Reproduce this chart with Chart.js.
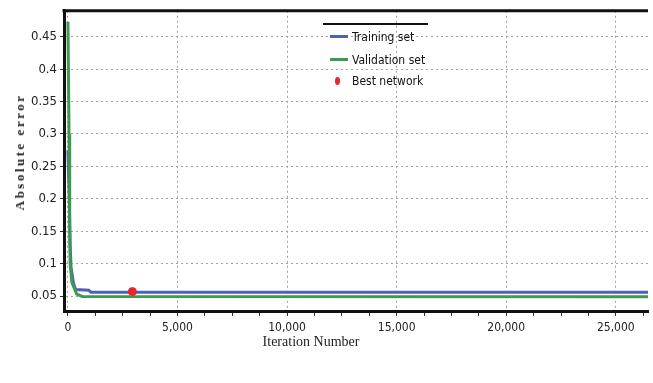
<!DOCTYPE html>
<html>
<head>
<meta charset="utf-8">
<script src="https://cdn.jsdelivr.net/npm/chart.js@4.4.1/dist/chart.umd.min.js"></script>
<style>
  html, body { margin: 0; padding: 0; background: #fff; }
  #wrap { position: relative; width: 653px; height: 383px; overflow: hidden; }
  #legend {
    position: absolute; left: 323px; top: 23px; width: 105px; height: 70px;
    border-top: 2px solid #111;
    font: 12px "Liberation Sans Narrow", "DejaVu Sans Condensed", sans-serif; color: #111;
  }
  .item { position: absolute; left: 0; height: 14px; line-height: 14px; white-space: nowrap; }
  .item .sw { position: absolute; left: 7px; top: 5px; width: 18px; height: 3px; }
  .item .dot { position: absolute; left: 12px; top: 3px; width: 5px; height: 8px; border-radius: 50%; background: #e8262a; }
  .item span { position: absolute; left: 29px; top: 0; }
  #ytitle {
    position: absolute; left: 20px; top: 152px; transform: translate(-50%, -50%) rotate(-90deg);
    font: bold 13px "Liberation Serif", serif; letter-spacing: 2.5px; color: #222; white-space: nowrap;
  }
  #xtitle {
    position: absolute; left: 311px; top: 342px; transform: translate(-50%, -50%);
    font: 14px "Liberation Serif", serif; color: #222; white-space: nowrap;
  }
</style>
</head>
<body>
<div id="wrap">
  <canvas id="chart" width="653" height="383"></canvas>
  <div id="ytitle">Absolute error</div>
  <div id="xtitle">Iteration Number</div>
  <div id="legend">
    <div class="item" style="top:5px"><div class="sw" style="background:#5060b4"></div><span>Training set</span></div>
    <div class="item" style="top:28px"><div class="sw" style="background:#3d9a50"></div><span>Validation set</span></div>
    <div class="item" style="top:49px"><div class="dot"></div><span>Best network</span></div>
  </div>
</div>
<script>
  // values
  const TRAIN_ITER = [0, 60, 100, 140, 250, 350, 950, 1050, 26470];
  const TRAIN_ERR = [0.275, 0.2, 0.13, 0.095, 0.07, 0.06, 0.059, 0.056, 0.056];
  const VAL_ITER = [0, 50, 80, 100, 180, 400, 650, 26470];
  const VAL_ERR = [0.473, 0.30, 0.15, 0.10, 0.071, 0.053, 0.0495, 0.049];
  const BEST_ITER = [2940];
  const BEST_ERR = [0.057];

  // axis ticks: labelled every 5,000, small marks every 1,250
  const X_TICKS = [0, 1250, 2500, 3750, 5000, 6250, 7500, 8750, 10000, 11250, 12500, 13750,
    15000, 16250, 17500, 18750, 20000, 21250, 22500, 23750, 25000, 26250];
  const Y_TICKS = [0.05, 0.1, 0.15, 0.2, 0.25, 0.3, 0.35, 0.4, 0.45];

  const TICK_FONT = '"Liberation Sans Narrow", "DejaVu Sans Condensed", sans-serif';
  const GRID = '#a0a0a0';

  const toPoints = (xs, ys) => xs.map((x, i) => ({ x, y: ys[i] }));

  // top border of the plot frame
  const frameTop = {
    id: 'frameTop',
    afterDraw(chart) {
      const { ctx, chartArea } = chart;
      ctx.save();
      ctx.strokeStyle = '#111';
      ctx.lineWidth = 3;
      ctx.beginPath();
      ctx.moveTo(chartArea.left - 1.5, chartArea.top);
      ctx.lineTo(chartArea.right, chartArea.top);
      ctx.stroke();
      ctx.restore();
    }
  };

  new Chart(document.getElementById('chart'), {
    type: 'line',
    data: {
      datasets: [
        {
          label: 'Best network',
          data: toPoints(BEST_ITER, BEST_ERR),
          showLine: false,
          pointRadius: 4,
          pointStyle: 'circle',
          backgroundColor: '#e8262a',
          borderColor: '#e8262a',
          order: 0
        },
        {
          label: 'Training set',
          data: toPoints(TRAIN_ITER, TRAIN_ERR),
          borderColor: '#5060b4',
          borderWidth: 3,
          pointRadius: 0,
          tension: 0,
          order: 2
        },
        {
          label: 'Validation set',
          data: toPoints(VAL_ITER, VAL_ERR),
          borderColor: '#3d9a50',
          borderWidth: 3,
          pointRadius: 0,
          tension: 0,
          order: 1
        }
      ]
    },
    options: {
      responsive: false,
      animation: false,
      layout: { padding: { top: 7, right: 0, bottom: 0, left: 0 } },
      plugins: { legend: { display: false }, tooltip: { enabled: false } },
      scales: {
        x: {
          type: 'linear',
          min: -180,
          max: 26470,
          afterBuildTicks: (s) => { s.ticks = X_TICKS.map(v => ({ value: v })); },
          afterFit: (s) => { s.height = 72; },
          border: { color: '#111', width: 3, dash: [2, 3] },
          grid: {
            color: (c) => (c.tick && c.tick.value % 5000 === 0 ? GRID : 'rgba(0,0,0,0)'),
            tickColor: '#333',
            tickLength: 5,
            tickWidth: 1
          },
          ticks: {
            autoSkip: false,
            maxRotation: 0,
            padding: 5,
            color: '#222',
            font: { family: TICK_FONT, size: 12 },
            callback: (v) => (v % 5000 === 0 ? v.toLocaleString('en-US') : '')
          }
        },
        y: {
          min: 0.027,
          max: 0.49,
          afterBuildTicks: (s) => { s.ticks = Y_TICKS.map(v => ({ value: v })); },
          afterFit: (s) => { s.width = 64; },
          border: { color: '#111', width: 3, dash: [2, 3] },
          grid: {
            color: GRID,
            tickColor: '#333',
            tickLength: 4
          },
          ticks: {
            padding: 3,
            color: '#222',
            font: { family: TICK_FONT, size: 13 },
            callback: (v) => String(+v.toFixed(2))
          }
        }
      }
    },
    plugins: [frameTop]
  });
</script>
</body>
</html>
